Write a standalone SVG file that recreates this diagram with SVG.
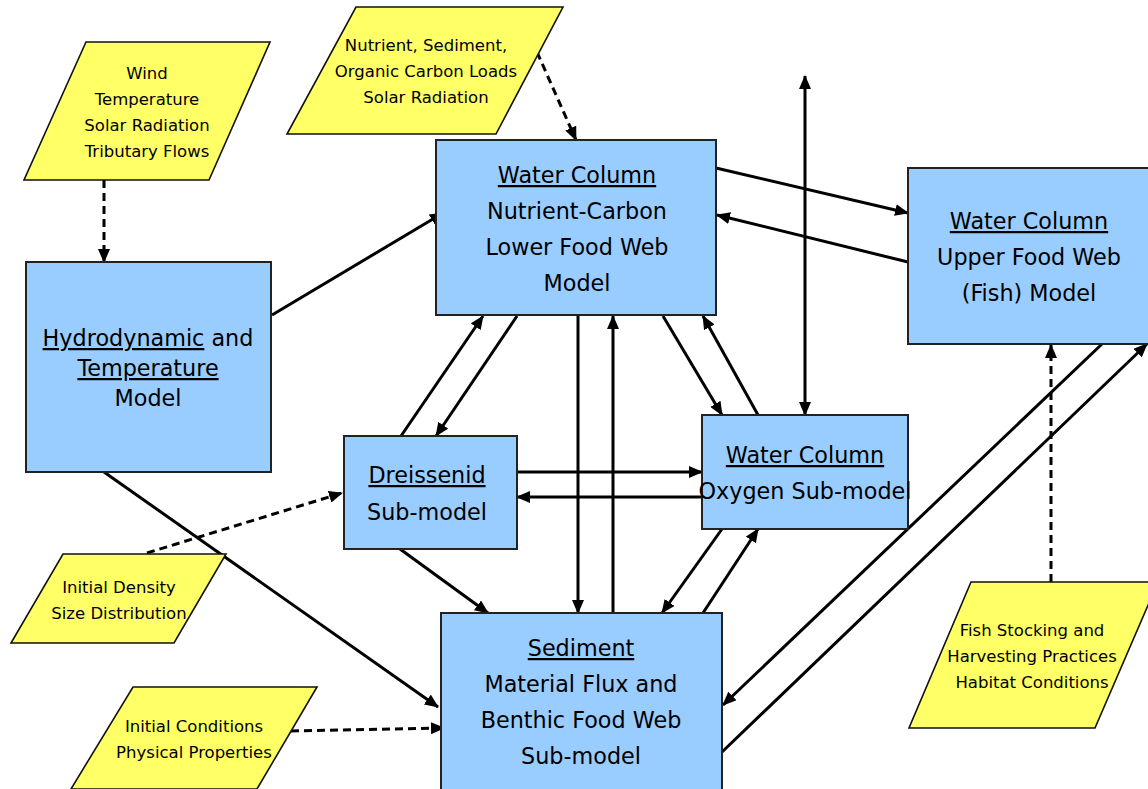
<svg xmlns="http://www.w3.org/2000/svg" width="1148" height="789" viewBox="0 0 1148 789">
<defs>
<marker id="ah" markerWidth="14" markerHeight="12" refX="13" refY="6" orient="auto-start-reverse" markerUnits="userSpaceOnUse"><path d="M0,0 L14,6 L0,12 z" fill="#000"/></marker>
<style>
.box{fill:#99CCFF;stroke:#222;stroke-width:2}
.inp{fill:#FFFF66;stroke:#111;stroke-width:1.6}
.t{font-family:"DejaVu Sans",Verdana,sans-serif;fill:#000;text-anchor:middle}
.big{font-size:22.3px}
.sm{font-size:16.5px}
.u{text-decoration:underline}
.c{stroke:#000;stroke-width:3;fill:none;marker-end:url(#ah)}
.d{stroke-dasharray:8 5}
.both{marker-start:url(#ah)}
</style>
</defs>
<rect width="1148" height="789" fill="#fff"/>

<g id="connectors">
<line class="c d" x1="104" y1="180" x2="104" y2="262"/>
<line class="c d" x1="537" y1="52" x2="576" y2="140"/>
<line class="c" x1="272" y1="315" x2="443" y2="213"/>
<line class="c" x1="104" y1="472" x2="438" y2="707"/>
<line class="c d" x1="147" y1="553" x2="342" y2="493"/>
<line class="c d" x1="291" y1="731" x2="444" y2="728"/>
<line class="c d" x1="1051" y1="582" x2="1051" y2="345"/>
<line class="c" x1="716" y1="168" x2="908" y2="213"/>
<line class="c" x1="908" y1="262" x2="717" y2="215"/>
<line class="c both" x1="805" y1="76" x2="805" y2="415"/>
<line class="c" x1="401" y1="436" x2="483" y2="316"/>
<line class="c" x1="517" y1="316" x2="436" y2="436"/>
<line class="c" x1="578" y1="316" x2="578" y2="613"/>
<line class="c" x1="613" y1="613" x2="613" y2="316"/>
<line class="c" x1="663" y1="316" x2="722" y2="415"/>
<line class="c" x1="758" y1="415" x2="703" y2="316"/>
<line class="c" x1="517" y1="472" x2="702" y2="472"/>
<line class="c" x1="702" y1="497" x2="517" y2="497"/>
<line class="c" x1="400" y1="549" x2="488" y2="613"/>
<line class="c" x1="722" y1="529" x2="662" y2="613"/>
<line class="c" x1="703" y1="613" x2="758" y2="529"/>
<line class="c" x1="1102" y1="344" x2="723" y2="705"/>
<line class="c" x1="722" y1="752" x2="1147" y2="344"/>
</g>

<g id="in-wind">
<polygon class="inp" points="86,42 270,42 209,180 24,180"/>
<text class="t sm" x="147" y="79">Wind</text>
<text class="t sm" x="147" y="105">Temperature</text>
<text class="t sm" x="147" y="131">Solar Radiation</text>
<text class="t sm" x="147" y="157">Tributary Flows</text>
</g>

<g id="in-loads">
<polygon class="inp" points="356,7 563,7 496,134 287,134"/>
<text class="t sm" x="426" y="51">Nutrient, Sediment,</text>
<text class="t sm" x="426" y="77">Organic Carbon Loads</text>
<text class="t sm" x="426" y="103">Solar Radiation</text>
</g>

<g id="in-density">
<polygon class="inp" points="63,554 226,554 174,643 11,643"/>
<text class="t sm" x="119" y="593">Initial Density</text>
<text class="t sm" x="119" y="619">Size Distribution</text>
</g>

<g id="in-conditions">
<polygon class="inp" points="133,687 317,687 257,789 71,789"/>
<text class="t sm" x="194" y="732">Initial Conditions</text>
<text class="t sm" x="194" y="758">Physical Properties</text>
</g>

<g id="in-fish">
<polygon class="inp" points="971,582 1158,582 1095,728 909,728"/>
<text class="t sm" x="1032" y="636">Fish Stocking and</text>
<text class="t sm" x="1032" y="662">Harvesting Practices</text>
<text class="t sm" x="1032" y="688">Habitat Conditions</text>
</g>

<g id="hydro">
<rect class="box" x="26" y="262" width="245" height="210"/>
<text class="t big" x="148" y="346"><tspan class="u">Hydrodynamic</tspan> and</text>
<text class="t big" x="148" y="376"><tspan class="u">Temperature</tspan></text>
<text class="t big" x="148" y="406">Model</text>
</g>

<g id="wc-lower">
<rect class="box" x="436" y="140" width="280" height="175"/>
<text class="t big" x="577" y="183"><tspan class="u">Water Column</tspan></text>
<text class="t big" x="577" y="219">Nutrient-Carbon</text>
<text class="t big" x="577" y="255">Lower Food Web</text>
<text class="t big" x="577" y="291">Model</text>
</g>

<g id="wc-upper">
<rect class="box" x="908" y="168" width="250" height="176"/>
<text class="t big" x="1029" y="229"><tspan class="u">Water Column</tspan></text>
<text class="t big" x="1029" y="265">Upper Food Web</text>
<text class="t big" x="1029" y="301">(Fish) Model</text>
</g>

<g id="dreissenid">
<rect class="box" x="344" y="436" width="173" height="113"/>
<text class="t big" x="427" y="483"><tspan class="u">Dreissenid</tspan></text>
<text class="t big" x="427" y="520">Sub-model</text>
</g>

<g id="oxygen">
<rect class="box" x="702" y="415" width="206" height="114"/>
<text class="t big" x="805" y="463"><tspan class="u">Water Column</tspan></text>
<text class="t big" x="805" y="499">Oxygen Sub-model</text>
</g>

<g id="sediment">
<rect class="box" x="441" y="613" width="281" height="190"/>
<text class="t big" x="581" y="656"><tspan class="u">Sediment</tspan></text>
<text class="t big" x="581" y="692">Material Flux and</text>
<text class="t big" x="581" y="728">Benthic Food Web</text>
<text class="t big" x="581" y="764">Sub-model</text>
</g>
</svg>
